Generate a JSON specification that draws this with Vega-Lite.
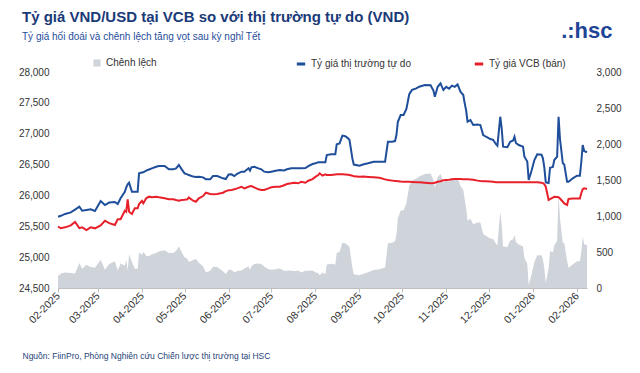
{
  "$schema": "https://vega.github.io/schema/vega-lite/v6.json",
  "width": 529,
  "height": 216,
  "autosize": {"type": "none"},
  "padding": {"left": 58, "top": 72, "right": 53, "bottom": 85},
  "background": "white",
  "config": {"font": "Liberation Sans", "view": {"stroke": null}},
  "title": {
    "text": "Tỷ giá VND/USD tại VCB so với thị trường tự do (VND)",
    "subtitle": "Tỷ giá hối đoái và chênh lệch tăng vọt sau kỳ nghỉ Tết",
    "anchor": "start",
    "frame": "group",
    "dx": -36,
    "offset": -23,
    "fontSize": 15,
    "fontWeight": "bold",
    "color": "#1a3a78",
    "subtitleFontSize": 10,
    "subtitleColor": "#1f4e9c",
    "subtitlePadding": 7
  },
  "data": {"values": [
    {"date": "2025-02-01", "free": 25655, "vcb": 25493, "spread": 162},
    {"date": "2025-02-03", "free": 25670, "vcb": 25470, "spread": 200},
    {"date": "2025-02-06", "free": 25700, "vcb": 25483, "spread": 217},
    {"date": "2025-02-10", "free": 25725, "vcb": 25515, "spread": 210},
    {"date": "2025-02-13", "free": 25770, "vcb": 25570, "spread": 200},
    {"date": "2025-02-16", "free": 25817, "vcb": 25470, "spread": 347},
    {"date": "2025-02-18", "free": 25752, "vcb": 25483, "spread": 269},
    {"date": "2025-02-21", "free": 25764, "vcb": 25440, "spread": 324},
    {"date": "2025-02-24", "free": 25775, "vcb": 25483, "spread": 292},
    {"date": "2025-02-27", "free": 25747, "vcb": 25467, "spread": 280},
    {"date": "2025-03-03", "free": 25909, "vcb": 25515, "spread": 394},
    {"date": "2025-03-06", "free": 25845, "vcb": 25590, "spread": 255},
    {"date": "2025-03-09", "free": 25885, "vcb": 25550, "spread": 335},
    {"date": "2025-03-13", "free": 25893, "vcb": 25521, "spread": 372},
    {"date": "2025-03-15", "free": 25861, "vcb": 25613, "spread": 248},
    {"date": "2025-03-17", "free": 25953, "vcb": 25613, "spread": 340},
    {"date": "2025-03-20", "free": 26060, "vcb": 25752, "spread": 308},
    {"date": "2025-03-21", "free": 26130, "vcb": 25736, "spread": 394},
    {"date": "2025-03-22", "free": 26180, "vcb": 25937, "spread": 243},
    {"date": "2025-03-23", "free": 26206, "vcb": 25736, "spread": 470},
    {"date": "2025-03-25", "free": 26060, "vcb": 25699, "spread": 361},
    {"date": "2025-03-27", "free": 26060, "vcb": 25791, "spread": 269},
    {"date": "2025-03-29", "free": 26060, "vcb": 25791, "spread": 269},
    {"date": "2025-03-30", "free": 26358, "vcb": 25860, "spread": 498},
    {"date": "2025-04-01", "free": 26370, "vcb": 25910, "spread": 460},
    {"date": "2025-04-02", "free": 26374, "vcb": 25872, "spread": 502},
    {"date": "2025-04-04", "free": 26401, "vcb": 25953, "spread": 448},
    {"date": "2025-04-06", "free": 26420, "vcb": 25980, "spread": 440},
    {"date": "2025-04-08", "free": 26439, "vcb": 25969, "spread": 470},
    {"date": "2025-04-11", "free": 26465, "vcb": 25980, "spread": 485},
    {"date": "2025-04-13", "free": 26476, "vcb": 25969, "spread": 507},
    {"date": "2025-04-17", "free": 26476, "vcb": 25953, "spread": 523},
    {"date": "2025-04-20", "free": 26423, "vcb": 25937, "spread": 486},
    {"date": "2025-04-23", "free": 26423, "vcb": 25937, "spread": 486},
    {"date": "2025-04-25", "free": 26439, "vcb": 25925, "spread": 514},
    {"date": "2025-04-27", "free": 26493, "vcb": 25915, "spread": 578},
    {"date": "2025-04-29", "free": 26423, "vcb": 25926, "spread": 497},
    {"date": "2025-05-01", "free": 26358, "vcb": 25930, "spread": 428},
    {"date": "2025-05-03", "free": 26342, "vcb": 25937, "spread": 405},
    {"date": "2025-05-04", "free": 26330, "vcb": 25969, "spread": 361},
    {"date": "2025-05-07", "free": 26305, "vcb": 25915, "spread": 390},
    {"date": "2025-05-09", "free": 26300, "vcb": 25898, "spread": 402},
    {"date": "2025-05-11", "free": 26303, "vcb": 25953, "spread": 350},
    {"date": "2025-05-14", "free": 26293, "vcb": 25990, "spread": 303},
    {"date": "2025-05-16", "free": 26261, "vcb": 26044, "spread": 217},
    {"date": "2025-05-19", "free": 26261, "vcb": 26023, "spread": 238},
    {"date": "2025-05-21", "free": 26314, "vcb": 26018, "spread": 296},
    {"date": "2025-05-24", "free": 26314, "vcb": 26023, "spread": 291},
    {"date": "2025-05-28", "free": 26277, "vcb": 26044, "spread": 233},
    {"date": "2025-05-30", "free": 26266, "vcb": 26070, "spread": 196},
    {"date": "2025-06-01", "free": 26340, "vcb": 26085, "spread": 255},
    {"date": "2025-06-03", "free": 26342, "vcb": 26088, "spread": 254},
    {"date": "2025-06-05", "free": 26314, "vcb": 26099, "spread": 215},
    {"date": "2025-06-07", "free": 26350, "vcb": 26115, "spread": 235},
    {"date": "2025-06-10", "free": 26385, "vcb": 26141, "spread": 244},
    {"date": "2025-06-12", "free": 26385, "vcb": 26115, "spread": 270},
    {"date": "2025-06-15", "free": 26439, "vcb": 26141, "spread": 298},
    {"date": "2025-06-16", "free": 26401, "vcb": 26150, "spread": 251},
    {"date": "2025-06-17", "free": 26455, "vcb": 26152, "spread": 303},
    {"date": "2025-06-19", "free": 26465, "vcb": 26131, "spread": 334},
    {"date": "2025-06-22", "free": 26439, "vcb": 26099, "spread": 340},
    {"date": "2025-06-24", "free": 26423, "vcb": 26088, "spread": 335},
    {"date": "2025-06-26", "free": 26385, "vcb": 26088, "spread": 297},
    {"date": "2025-06-29", "free": 26374, "vcb": 26115, "spread": 259},
    {"date": "2025-07-01", "free": 26385, "vcb": 26131, "spread": 254},
    {"date": "2025-07-04", "free": 26401, "vcb": 26141, "spread": 260},
    {"date": "2025-07-07", "free": 26412, "vcb": 26140, "spread": 272},
    {"date": "2025-07-10", "free": 26405, "vcb": 26165, "spread": 240},
    {"date": "2025-07-12", "free": 26423, "vcb": 26185, "spread": 238},
    {"date": "2025-07-15", "free": 26439, "vcb": 26196, "spread": 243},
    {"date": "2025-07-17", "free": 26439, "vcb": 26206, "spread": 233},
    {"date": "2025-07-20", "free": 26439, "vcb": 26196, "spread": 243},
    {"date": "2025-07-22", "free": 26439, "vcb": 26222, "spread": 217},
    {"date": "2025-07-25", "free": 26445, "vcb": 26206, "spread": 239},
    {"date": "2025-07-27", "free": 26476, "vcb": 26238, "spread": 238},
    {"date": "2025-07-30", "free": 26509, "vcb": 26265, "spread": 244},
    {"date": "2025-08-01", "free": 26520, "vcb": 26300, "spread": 220},
    {"date": "2025-08-03", "free": 26536, "vcb": 26330, "spread": 206},
    {"date": "2025-08-04", "free": 26536, "vcb": 26358, "spread": 178},
    {"date": "2025-08-06", "free": 26536, "vcb": 26320, "spread": 216},
    {"date": "2025-08-08", "free": 26536, "vcb": 26342, "spread": 194},
    {"date": "2025-08-09", "free": 26655, "vcb": 26330, "spread": 325},
    {"date": "2025-08-12", "free": 26666, "vcb": 26330, "spread": 336},
    {"date": "2025-08-15", "free": 26666, "vcb": 26340, "spread": 326},
    {"date": "2025-08-16", "free": 26828, "vcb": 26342, "spread": 486},
    {"date": "2025-08-18", "free": 26844, "vcb": 26342, "spread": 502},
    {"date": "2025-08-20", "free": 26970, "vcb": 26342, "spread": 628},
    {"date": "2025-08-22", "free": 26960, "vcb": 26340, "spread": 620},
    {"date": "2025-08-24", "free": 26925, "vcb": 26335, "spread": 590},
    {"date": "2025-08-25", "free": 26898, "vcb": 26330, "spread": 568},
    {"date": "2025-08-27", "free": 26600, "vcb": 26320, "spread": 280},
    {"date": "2025-08-28", "free": 26500, "vcb": 26310, "spread": 190},
    {"date": "2025-09-01", "free": 26481, "vcb": 26303, "spread": 178},
    {"date": "2025-09-04", "free": 26504, "vcb": 26305, "spread": 199},
    {"date": "2025-09-07", "free": 26520, "vcb": 26300, "spread": 220},
    {"date": "2025-09-11", "free": 26546, "vcb": 26295, "spread": 251},
    {"date": "2025-09-15", "free": 26546, "vcb": 26287, "spread": 259},
    {"date": "2025-09-19", "free": 26546, "vcb": 26260, "spread": 286},
    {"date": "2025-09-21", "free": 26870, "vcb": 26250, "spread": 620},
    {"date": "2025-09-24", "free": 26870, "vcb": 26240, "spread": 630},
    {"date": "2025-09-26", "free": 26881, "vcb": 26233, "spread": 648},
    {"date": "2025-09-27", "free": 26979, "vcb": 26233, "spread": 746},
    {"date": "2025-09-28", "free": 27194, "vcb": 26230, "spread": 964},
    {"date": "2025-09-30", "free": 27303, "vcb": 26225, "spread": 1078},
    {"date": "2025-10-02", "free": 27303, "vcb": 26222, "spread": 1081},
    {"date": "2025-10-04", "free": 27400, "vcb": 26222, "spread": 1178},
    {"date": "2025-10-06", "free": 27640, "vcb": 26220, "spread": 1420},
    {"date": "2025-10-08", "free": 27710, "vcb": 26218, "spread": 1492},
    {"date": "2025-10-11", "free": 27735, "vcb": 26215, "spread": 1520},
    {"date": "2025-10-13", "free": 27762, "vcb": 26212, "spread": 1550},
    {"date": "2025-10-17", "free": 27789, "vcb": 26205, "spread": 1584},
    {"date": "2025-10-21", "free": 27785, "vcb": 26196, "spread": 1589},
    {"date": "2025-10-23", "free": 27700, "vcb": 26200, "spread": 1500},
    {"date": "2025-10-24", "free": 27599, "vcb": 26205, "spread": 1394},
    {"date": "2025-10-26", "free": 27760, "vcb": 26222, "spread": 1538},
    {"date": "2025-10-28", "free": 27816, "vcb": 26230, "spread": 1586},
    {"date": "2025-10-30", "free": 27708, "vcb": 26245, "spread": 1463},
    {"date": "2025-11-01", "free": 27760, "vcb": 26250, "spread": 1510},
    {"date": "2025-11-03", "free": 27730, "vcb": 26255, "spread": 1475},
    {"date": "2025-11-05", "free": 27780, "vcb": 26262, "spread": 1518},
    {"date": "2025-11-07", "free": 27760, "vcb": 26266, "spread": 1494},
    {"date": "2025-11-09", "free": 27799, "vcb": 26266, "spread": 1533},
    {"date": "2025-11-11", "free": 27681, "vcb": 26266, "spread": 1415},
    {"date": "2025-11-13", "free": 27627, "vcb": 26264, "spread": 1363},
    {"date": "2025-11-14", "free": 27492, "vcb": 26262, "spread": 1230},
    {"date": "2025-11-15", "free": 27380, "vcb": 26262, "spread": 1118},
    {"date": "2025-11-16", "free": 27195, "vcb": 26262, "spread": 933},
    {"date": "2025-11-18", "free": 27222, "vcb": 26260, "spread": 962},
    {"date": "2025-11-20", "free": 27141, "vcb": 26255, "spread": 886},
    {"date": "2025-11-23", "free": 27150, "vcb": 26240, "spread": 910},
    {"date": "2025-11-25", "free": 27141, "vcb": 26233, "spread": 908},
    {"date": "2025-11-27", "free": 26979, "vcb": 26230, "spread": 749},
    {"date": "2025-11-29", "free": 26951, "vcb": 26230, "spread": 721},
    {"date": "2025-12-02", "free": 26914, "vcb": 26225, "spread": 689},
    {"date": "2025-12-04", "free": 26900, "vcb": 26220, "spread": 680},
    {"date": "2025-12-06", "free": 26830, "vcb": 26215, "spread": 615},
    {"date": "2025-12-07", "free": 26806, "vcb": 26212, "spread": 594},
    {"date": "2025-12-09", "free": 27275, "vcb": 26212, "spread": 1063},
    {"date": "2025-12-10", "free": 27087, "vcb": 26212, "spread": 875},
    {"date": "2025-12-11", "free": 26789, "vcb": 26212, "spread": 577},
    {"date": "2025-12-14", "free": 26780, "vcb": 26212, "spread": 568},
    {"date": "2025-12-16", "free": 26870, "vcb": 26212, "spread": 658},
    {"date": "2025-12-18", "free": 26890, "vcb": 26212, "spread": 678},
    {"date": "2025-12-19", "free": 26951, "vcb": 26212, "spread": 739},
    {"date": "2025-12-20", "free": 26850, "vcb": 26212, "spread": 638},
    {"date": "2025-12-22", "free": 26817, "vcb": 26212, "spread": 605},
    {"date": "2025-12-25", "free": 26790, "vcb": 26212, "spread": 578},
    {"date": "2025-12-26", "free": 26627, "vcb": 26212, "spread": 415},
    {"date": "2025-12-28", "free": 26550, "vcb": 26212, "spread": 338},
    {"date": "2025-12-29", "free": 26250, "vcb": 26212, "spread": 38},
    {"date": "2025-12-31", "free": 26400, "vcb": 26212, "spread": 188},
    {"date": "2026-01-02", "free": 26574, "vcb": 26212, "spread": 362},
    {"date": "2026-01-04", "free": 26666, "vcb": 26212, "spread": 454},
    {"date": "2026-01-07", "free": 26660, "vcb": 26205, "spread": 455},
    {"date": "2026-01-08", "free": 26601, "vcb": 26200, "spread": 401},
    {"date": "2026-01-09", "free": 26450, "vcb": 26180, "spread": 270},
    {"date": "2026-01-10", "free": 26212, "vcb": 26141, "spread": 71},
    {"date": "2026-01-12", "free": 26200, "vcb": 25926, "spread": 274},
    {"date": "2026-01-13", "free": 26449, "vcb": 25940, "spread": 509},
    {"date": "2026-01-15", "free": 26460, "vcb": 25965, "spread": 495},
    {"date": "2026-01-16", "free": 26574, "vcb": 25980, "spread": 594},
    {"date": "2026-01-18", "free": 26627, "vcb": 25975, "spread": 652},
    {"date": "2026-01-19", "free": 27275, "vcb": 25970, "spread": 1305},
    {"date": "2026-01-20", "free": 26914, "vcb": 25950, "spread": 964},
    {"date": "2026-01-22", "free": 26520, "vcb": 25898, "spread": 622},
    {"date": "2026-01-23", "free": 26500, "vcb": 25870, "spread": 630},
    {"date": "2026-01-25", "free": 26222, "vcb": 25845, "spread": 377},
    {"date": "2026-01-26", "free": 26222, "vcb": 25942, "spread": 280},
    {"date": "2026-01-29", "free": 26277, "vcb": 25950, "spread": 327},
    {"date": "2026-02-01", "free": 26320, "vcb": 25950, "spread": 370},
    {"date": "2026-02-03", "free": 26320, "vcb": 25950, "spread": 370},
    {"date": "2026-02-04", "free": 26546, "vcb": 26040, "spread": 506},
    {"date": "2026-02-05", "free": 26817, "vcb": 26100, "spread": 717},
    {"date": "2026-02-06", "free": 26719, "vcb": 26115, "spread": 604},
    {"date": "2026-02-08", "free": 26700, "vcb": 26104, "spread": 596}
  ]},
  "layer": [
    {
      "mark": {"type": "area", "interpolate": "linear"},
      "encoding": {
        "x": {
          "field": "date",
          "type": "temporal",
          "scale": {"type": "utc", "domain": [{"year": 2025, "month": 2, "date": 1, "utc": true}, {"year": 2026, "month": 2, "date": 8, "utc": true}]},
          "axis": {
            "labelExpr": "utcFormat(datum.value, '%m-%Y')",
            "tickCount": {"interval": "month", "step": 1},
            "labelAngle": -45,
            "labelAlign": "right",
            "labelBaseline": "middle",
            "labelPadding": 2,
            "labelFontSize": 10.5,
            "labelColor": "#333333",
            "labelFlush": false,
            "labelOverlap": false,
            "grid": false,
            "domainColor": "#bfbfbf",
            "tickColor": "#bfbfbf",
            "tickSize": 4,
            "title": "Nguồn: FiinPro, Phòng Nghiên cứu Chiến lược thị trường tại HSC",
            "titleX": -36,
            "titleY": 67,
            "titleAlign": "left",
            "titleBaseline": "middle",
            "titleFontSize": 8.5,
            "titleFontWeight": "normal",
            "titleColor": "#1f3f7a"
          }
        },
        "y": {
          "field": "spread",
          "type": "quantitative",
          "scale": {"domain": [0, 3000], "nice": false},
          "axis": {
            "orient": "right",
            "values": [0, 500, 1000, 1500, 2000, 2500, 3000],
            "format": ",d",
            "grid": false,
            "domain": false,
            "ticks": false,
            "labelPadding": 9,
            "labelFontSize": 10,
            "labelColor": "#333333",
            "title": ".:hsc",
            "titleAngle": 0,
            "titleX": 25,
            "titleY": -35,
            "titleAlign": "right",
            "titleBaseline": "alphabetic",
            "titleFontSize": 22,
            "titleFontWeight": "bold",
            "titleColor": "#1f4596"
          }
        },
        "fill": {
          "datum": "Chênh lệch",
          "scale": {"domain": ["Chênh lệch"], "range": ["#cfd3da"]},
          "legend": {
            "orient": "none",
            "legendX": 34,
            "legendY": -14,
            "title": null,
            "symbolType": "square",
            "symbolSize": 50,
            "symbolStrokeWidth": 0,
            "labelFontSize": 10,
            "labelColor": "#333333"
          }
        }
      }
    },
    {
      "transform": [{"fold": ["free", "vcb"], "as": ["series", "value"]}],
      "mark": {"type": "line", "strokeWidth": 2},
      "encoding": {
        "x": {"field": "date", "type": "temporal"},
        "y": {
          "field": "value",
          "type": "quantitative",
          "scale": {"domain": [24500, 28000], "nice": false, "zero": false},
          "axis": {
            "orient": "left",
            "values": [24500, 25000, 25500, 26000, 26500, 27000, 27500, 28000],
            "format": ",d",
            "grid": false,
            "domain": false,
            "ticks": false,
            "labelPadding": 9,
            "labelFontSize": 10,
            "labelColor": "#333333",
            "title": null
          }
        },
        "stroke": {
          "field": "series",
          "type": "nominal",
          "scale": {"domain": ["free", "vcb"], "range": ["#1f4e9a", "#e8202a"]},
          "legend": {
            "orient": "none",
            "legendX": 237,
            "legendY": -14,
            "direction": "horizontal",
            "title": null,
            "symbolType": "stroke",
            "symbolStrokeWidth": 3,
            "symbolSize": 70,
            "columnPadding": 57,
            "labelFontSize": 10,
            "labelColor": "#333333",
            "labelExpr": "datum.label == 'free' ? 'Tỷ giá thị trường tự do' : 'Tỷ giá VCB (bán)'"
          }
        }
      }
    }
  ],
  "resolve": {"scale": {"y": "independent"}}
}
